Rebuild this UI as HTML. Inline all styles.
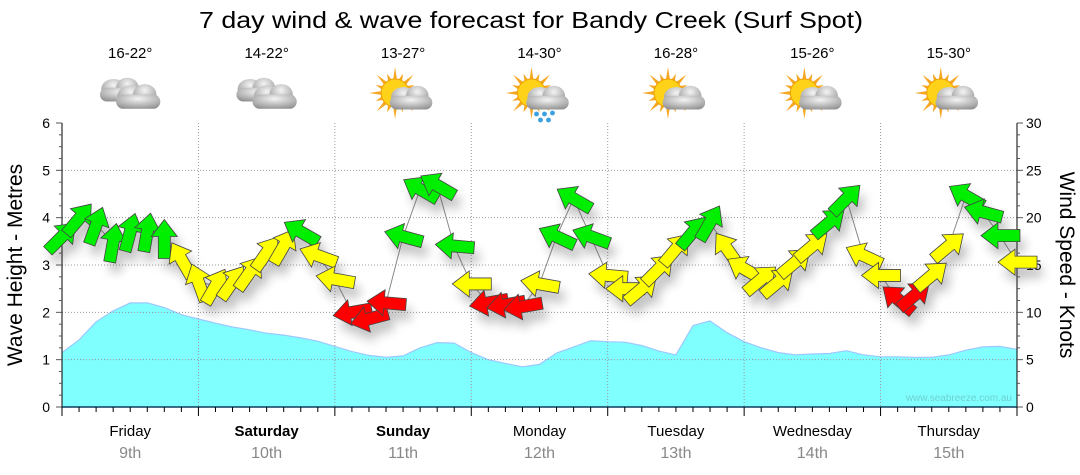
<!DOCTYPE html>
<html><head><meta charset="utf-8"><style>
body{margin:0;background:#fff;}
svg{display:block;font-family:"Liberation Sans",sans-serif;}
</style></head><body>
<svg id="chart" width="1080" height="475" viewBox="0 0 1080 475" xmlns="http://www.w3.org/2000/svg">
<defs>
<filter id="sh" x="-50%" y="-50%" width="200%" height="200%"><feGaussianBlur stdDeviation="5"/></filter>
<radialGradient id="cloudG" cx="50%" cy="30%" r="75%"><stop offset="0" stop-color="#f4f4f4"/><stop offset="1" stop-color="#8f8f8f"/></radialGradient>
</defs>
<text x="531" y="28" font-size="23" text-anchor="middle" textLength="664" lengthAdjust="spacingAndGlyphs" fill="#000">7 day wind &amp; wave forecast for Bandy Creek (Surf Spot)</text>
<g id="plot"></g>
</svg>
<script>
const days = ["Friday","Saturday","Sunday","Monday","Tuesday","Wednesday","Thursday"];
const dates = ["9th","10th","11th","12th","13th","14th","15th"];
const boldDays = [false,true,true,false,false,false,false];
const temps = ["16-22°","14-22°","13-27°","14-30°","16-28°","15-26°","15-30°"];
const icons = ["cloudy","cloudy","partly","showers","partly","partly","partly"];
const leftTicks = [0,1,2,3,4,5,6];
const rightTicks = [0,5,10,15,20,25,30];
// wave height (m) every 3 hours
const waveHeights = [1.15,1.42,1.8,2.03,2.2,2.2,2.1,1.95,1.86,1.77,1.69,1.63,1.56,1.52,1.46,1.39,1.28,1.17,1.09,1.05,1.08,1.25,1.36,1.35,1.15,1.0,0.92,0.85,0.9,1.14,1.27,1.4,1.38,1.37,1.3,1.18,1.1,1.72,1.82,1.57,1.38,1.25,1.15,1.1,1.12,1.13,1.19,1.1,1.06,1.06,1.05,1.05,1.1,1.2,1.27,1.28,1.22];
// wind speed (knots) every 3 hours
const windSpeeds = [18,19.9,19.2,17.4,18.5,18.5,17.8,15.6,13.2,12.8,13.2,14.2,16.3,17,18.5,16,13.5,10,9.3,11,18,23,23.4,17,13,11,10.8,10.6,13,18,22,18,13.9,12.5,12.5,14.6,16.7,18.5,19.5,16.7,14.6,13.5,13.2,15.3,17,19.5,22,16,13.9,11.4,11.8,13.9,17,22.3,20.6,18.1,15.3];
// wind arrow heading (degrees, screen; 0 = pointing right, -90 = up)
const windDirs = [-45,-50,-70,-80,-75,-80,-90,-120,-110,-60,-55,-55,-55,-60,-150,-160,-170,-190,-195,-175,-165,-150,-150,-175,-180,-190,-190,-190,-170,-155,-150,-160,-175,-180,-40,-45,-50,-50,-60,-125,-150,-40,-40,-40,-40,-40,-45,-155,-180,-140,-40,-40,-40,-150,-165,-180,-180];
// wind rating category: g = green, y = yellow, r = red
const windColors = ["g","g","g","g","g","g","g","y","y","y","y","y","y","y","g","y","y","r","r","r","g","g","g","g","y","r","r","r","y","g","g","g","y","y","y","y","y","g","g","y","y","y","y","y","y","g","g","y","y","r","r","y","y","g","g","g","y"];

const X0=62,X1=1017,Y0=407,Y1=123;
const NH=7*24;
function xH(h){return X0+(X1-X0)*h/NH;}
function yM(m){return Y0-(Y0-Y1)*m/6;}
function yK(k){return Y0-(Y0-Y1)*k/30;}
const NS="http://www.w3.org/2000/svg";
const g=document.getElementById('plot');
function mk(tag,attrs,parent){const e=document.createElementNS(NS,tag);for(const k in attrs)e.setAttribute(k,attrs[k]);(parent||g).appendChild(e);return e;}

// wave area
let d="M"+xH(0)+","+Y0;
waveHeights.forEach((v,i)=>{d+=" L"+xH(i*3).toFixed(1)+","+yM(v).toFixed(1);});
d+=" L"+xH((waveHeights.length-1)*3)+","+Y0+" Z";
const area=mk('path',{d:d,fill:'#80ffff'});


let dl="";waveHeights.forEach((v,i)=>{dl+=(i?" L":"M")+xH(i*3).toFixed(1)+","+yM(v).toFixed(1);});
mk('path',{d:dl,fill:'none',stroke:'#9cc8ff','stroke-width':1.2});

// watermark
const wm=mk('text',{x:1012,y:401,'font-size':10,'text-anchor':'end',fill:'#6fd0d0'});
wm.textContent="www.seabreeze.com.au";



// grid
for(let m=1;m<=5;m++){mk('line',{x1:X0,x2:X1,y1:yM(m),y2:yM(m),stroke:'#999','stroke-width':1,'stroke-dasharray':'1,2'});}
for(let dd=1;dd<7;dd++){mk('line',{x1:xH(dd*24),x2:xH(dd*24),y1:Y1,y2:Y0,stroke:'#999','stroke-width':1,'stroke-dasharray':'1,2'});}

// axes
mk('line',{x1:X0,x2:X0,y1:Y1,y2:Y0,stroke:'#000'});
mk('line',{x1:X1,x2:X1,y1:Y1,y2:Y0,stroke:'#000'});
mk('line',{x1:X0,x2:X1,y1:Y0,y2:Y0,stroke:'#0b3d5c','stroke-width':1.5});
for(let m=0;m<=24;m++){const y=Y0-(Y0-Y1)*m/24;const L=(m%4==0)?6:3;
 mk('line',{x1:X0-L,x2:X0,y1:y,y2:y,stroke:'#555'});
 mk('line',{x1:X1,x2:X1+L,y1:y,y2:y,stroke:'#555'});}
leftTicks.forEach(v=>{const t=mk('text',{x:50,y:yM(v)+5,'font-size':14,'text-anchor':'end',fill:'#000'});t.textContent=v;
 
 });
rightTicks.forEach(v=>{const t=mk('text',{x:1026,y:yK(v)+5,'font-size':14,'text-anchor':'start',fill:'#000'});t.textContent=v;
 
 });
for(let h=0;h<=NH;h+=3){const major=h%24==0;mk('line',{x1:xH(h),x2:xH(h),y1:Y0,y2:Y0+(major?9:5),stroke:'#000'});}

const yl=mk('text',{x:0,y:0,'font-size':21,'text-anchor':'middle',transform:'translate(22,265) rotate(-90)'});yl.textContent="Wave Height - Metres";


const yr=mk('text',{x:0,y:0,'font-size':21,'text-anchor':'middle',transform:'translate(1060,265) rotate(90)'});yr.textContent="Wind Speed - Knots";



// day labels, temps, icons
function cloud(p,cx,cy,s){
 mk('ellipse',{cx:cx-6*s,cy:cy-4*s,rx:10*s,ry:8*s,fill:'url(#cloudG)'},p);
 mk('ellipse',{cx:cx+5*s,cy:cy-5*s,rx:9*s,ry:8*s,fill:'url(#cloudG)'},p);
 mk('rect',{x:cx-17*s,y:cy-5*s,width:34*s,height:11*s,rx:5.5*s,fill:'url(#cloudG)'},p);
}
function sun(p,cx,cy){
 for(let a=0;a<360;a+=22.5){const r=(a*Math.PI)/180;const L=(a/22.5)%2?21:26;
  mk('polygon',{points:`${cx+Math.cos(r)*L},${cy+Math.sin(r)*L} ${cx+Math.cos(r+0.16)*13},${cy+Math.sin(r+0.16)*13} ${cx+Math.cos(r-0.16)*13},${cy+Math.sin(r-0.16)*13}`,fill:'#f5a623'},p);}
 mk('circle',{cx:cx,cy:cy,r:14,fill:'#ffd21a',stroke:'#f0a000'},p);
}
days.forEach((dn,i)=>{
 const cx=xH(i*24+12);
 const t=mk('text',{x:cx,y:436,'font-size':15,'text-anchor':'middle','font-weight':boldDays[i]?'bold':'normal',fill:'#000'});t.textContent=dn;
 
 
 const t2=mk('text',{x:cx,y:458,'font-size':16,'text-anchor':'middle',fill:'#888'});t2.textContent=dates[i];
 
 
 const t3=mk('text',{x:cx,y:58,'font-size':15,'text-anchor':'middle',fill:'#000'});t3.textContent=temps[i];
 
 
 const ig=mk('g',{});
 
 
 if(icons[i]=="cloudy"){cloud(ig,cx-9,94,1.25);cloud(ig,cx+8,101,1.3);}
 else{sun(ig,cx-8,93);cloud(ig,cx+8,102,1.25);
  if(icons[i]=="showers"){[[-3,114],[5,114],[13,113],[1,120],[9,120]].forEach(q=>mk('circle',{cx:cx+q[0],cy:q[1],r:2.4,fill:'#3aa0e0'},ig));}}
});

// wind arrows
let lp="";windSpeeds.forEach((s,i)=>{lp+=(i?" L":"M")+xH(i*3).toFixed(1)+","+yK(s).toFixed(1);});
mk('path',{d:lp,fill:'none',stroke:'#888','stroke-width':1});
const arrowPts="-20,-6 2,-6 2,-13 19,0 2,13 2,6 -20,6";
const colMap={g:'#00ee00',y:'#ffff00',r:'#ff0000'};
const shg=mk('g',{filter:'url(#sh)',opacity:0.35});
windSpeeds.forEach((s,i)=>{mk('polygon',{points:arrowPts,fill:'#555',transform:`translate(${xH(i*3)+5},${yK(s)+10}) rotate(${windDirs[i]})`},shg);});
windSpeeds.forEach((s,i)=>{
 const a=mk('polygon',{points:arrowPts,fill:colMap[windColors[i]],stroke:'#444','stroke-width':0.8,transform:`translate(${xH(i*3)},${yK(s)}) rotate(${windDirs[i]})`});
 
 
});
</script>
</body></html>
